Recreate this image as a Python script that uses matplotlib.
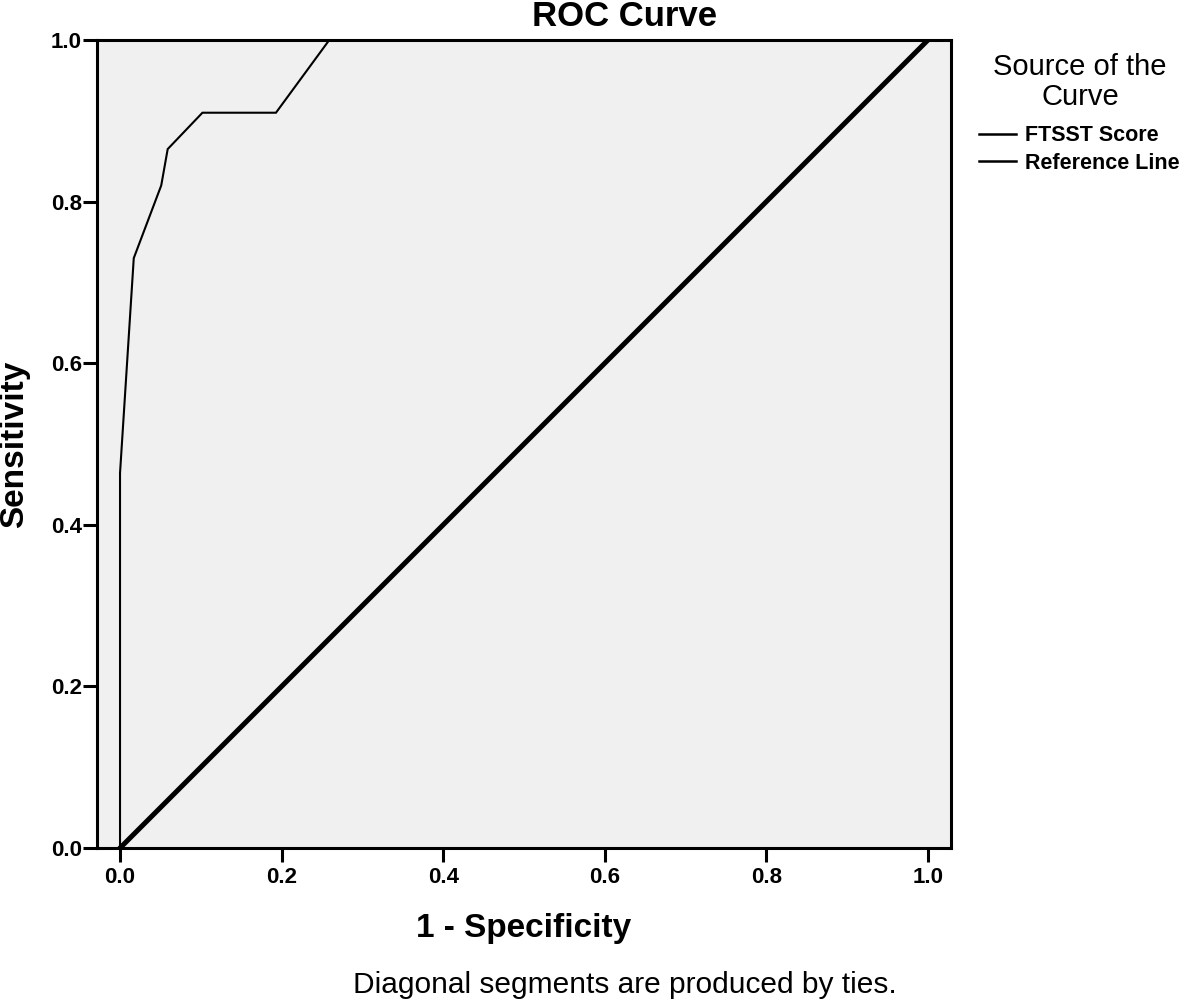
import numpy as np
import matplotlib
matplotlib.use("Agg")
import matplotlib.pyplot as plt
from matplotlib.lines import Line2D

plt.rcParams['font.family'] = ['Liberation Sans', 'DejaVu Sans']

# ROC points
fpr = [0.0, 0.0, 0.017, 0.051, 0.059, 0.102, 0.193, 0.259, 1.0]
tpr = [0.0, 0.464, 0.730, 0.820, 0.865, 0.910, 0.910, 1.0, 1.0]
ref_x = [0.0, 1.0]
ref_y = [0.0, 1.0]
ticks = [0.0, 0.2, 0.4, 0.6, 0.8, 1.0]
labels = ["FTSST Score", "Reference Line"]

fig = plt.figure(figsize=(11.81, 10), dpi=100)
ax = fig.add_axes([97/1181, 0.152, (951-97)/1181, 0.808])
ax.set_facecolor("#f0f0f0")

ax.plot(fpr, tpr, color="black", lw=1.5, solid_joinstyle="miter")
ax.plot(ref_x, ref_y, color="black", lw=3.6)

ax.set_xlim(-0.0285, 1.0285)
ax.set_ylim(0, 1)
ax.set_xticks(ticks)
ax.set_yticks(ticks)
ax.set_xticklabels([f"{t:.1f}" for t in ticks], fontsize=16, fontweight="bold")
ax.set_yticklabels([f"{t:.1f}" for t in ticks], fontsize=16, fontweight="bold")
ax.tick_params(axis="x", direction="out", length=10, width=2.2, pad=4)
ax.tick_params(axis="y", direction="out", length=10, width=2.2, pad=1)
for s in ax.spines.values():
    s.set_linewidth(2.2)

ax.set_xlabel("1 - Specificity", fontsize=24, fontweight="bold")
ax.xaxis.set_label_coords(0.5, (848-913)/808)
ax.set_ylabel("Sensitivity", fontsize=24, fontweight="bold")
ax.yaxis.set_label_coords((30-97)/854, 0.5)

fig.text(625/1181, 0.984, "ROC Curve", ha="center", va="center", fontsize=25, fontweight="bold")
fig.text(625/1181, 0.015, "Diagonal segments are produced by ties.", ha="center", va="center", fontsize=21.5)

# legend title placed by hand, entries below it
fig.text(1080/1181, 1 - 82/1000, "Source of the\nCurve", ha="center", va="center",
         fontsize=21, multialignment="center", linespacing=1.05)
handles = [Line2D([], [], color="black", lw=1.8), Line2D([], [], color="black", lw=1.8)]
leg = fig.legend(handles, labels, loc="upper left",
                 bbox_to_anchor=(975/1181, 1 - 121/1000), frameon=False,
                 prop={"size": 15.5, "weight": "bold"},
                 handlelength=1.7, handletextpad=0.4, labelspacing=0.3,
                 borderaxespad=0, borderpad=0.2)

fig.savefig("out.png", dpi=100)
